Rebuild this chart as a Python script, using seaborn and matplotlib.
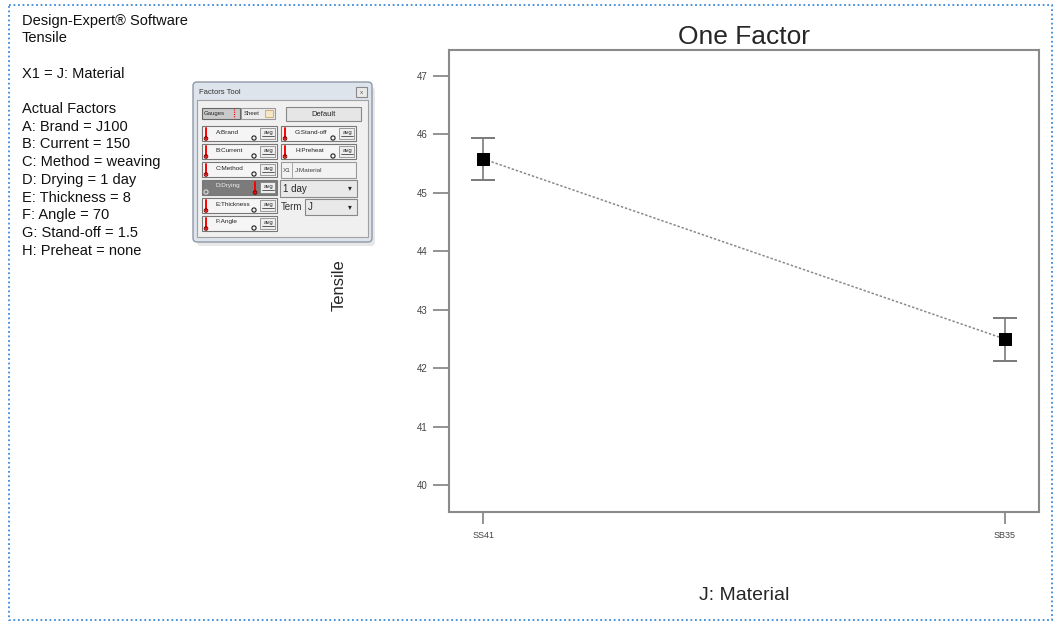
import numpy as np
import pandas as pd
import matplotlib
matplotlib.use("Agg")
import matplotlib.pyplot as plt
from matplotlib.patches import Rectangle, FancyBboxPatch, Circle
import seaborn as sns

# values
materials = ["SS41", "SB35"]
tensile_mean = [45.58, 42.50]
ci_low = [45.22, 42.13]
ci_high = [45.94, 42.86]
y_ticks = [40, 41, 42, 43, 44, 45, 46, 47]

info_lines = [
    (0, "Design-Expert\u00ae Software"),
    (1, "Tensile"),
    (3, "X1 = J: Material"),
    (5, "Actual Factors"),
    (6, "A: Brand = J100"),
    (7, "B: Current = 150"),
    (8, "C: Method = weaving"),
    (9, "D: Drying = 1 day"),
    (10, "E: Thickness = 8"),
    (11, "F: Angle = 70"),
    (12, "G: Stand-off = 1.5"),
    (13, "H: Preheat = none"),
]
gauges_left = ["A:Brand", "B:Current", "C:Method", "D:Drying", "E:Thickness", "F:Angle"]
gauges_right = ["G:Stand-off", "H:Preheat"]

sns.set_style("white")
plt.rcParams["font.family"] = ["Liberation Sans", "DejaVu Sans"]

W, H = 1054, 621
fig = plt.figure(figsize=(W / 100, H / 100), dpi=100)

# ---- main plot ----
ax = fig.add_axes([449 / W, 1 - 512 / H, (1039 - 449) / W, (512 - 50) / H])
df = pd.DataFrame({"Material": materials, "Tensile": tensile_mean})
sns.lineplot(data=df, x="Material", y="Tensile", sort=False, color="#8a8a8a",
             lw=1.1, linestyle=(0, (1.6, 1.2)), ax=ax)
lo = np.array(tensile_mean) - np.array(ci_low)
hi = np.array(ci_high) - np.array(tensile_mean)
ax.errorbar(materials, tensile_mean, yerr=[lo, hi], fmt="none", ecolor="#7a7a7a",
            elinewidth=1.2, capsize=8.5, capthick=1.4, zorder=3)
sns.scatterplot(data=df, x="Material", y="Tensile", marker="s", s=85,
                color="black", edgecolor="black", zorder=5, ax=ax)

ax.set_xlim(-0.066, 1.066)
ax.set_ylim(39.538, 47.445)
ax.set_yticks(y_ticks)
ax.tick_params(axis="y", direction="out", length=11.5, width=1.3, color="#8a8a8a",
               labelsize=7, labelcolor="#444444", pad=4, left=True)
ax.tick_params(axis="x", direction="out", length=8.5, width=1.3, color="#8a8a8a",
               labelsize=6.5, labelcolor="#444444", pad=5, bottom=True)
for s in ax.spines.values():
    s.set_visible(True)
    s.set_color("#8a8a8a")
    s.set_linewidth(1.5)

ax.set_title("One Factor", fontsize=19, pad=4)
ax.set_ylabel("Tensile", fontsize=12)
ax.yaxis.set_label_coords((346.5 - 449) / 590, (512 - 285) / 462)
ax.set_xlabel("J: Material", fontsize=14)
ax.xaxis.set_label_coords(0.5, (512 - 587.5) / 462)

# ---- overlay in pixel coordinates for the side panel ----
ov = fig.add_axes([0, 0, 1, 1], facecolor="none", zorder=-1)
ov.set_xlim(0, W)
ov.set_ylim(H, 0)
ov.axis("off")

for i, txt in info_lines:
    ov.text(22, 20.5 + 17.7 * i, txt, fontsize=10.5, va="center", ha="left", color="#111111")

# dotted frame
ov.add_patch(Rectangle((9, 5), 1043, 615, fill=False, ec="#3c8ad8", lw=1.3,
                       ls=(0, (1, 1.5))))


def box(x0, y0, x1, y1, fc, ec="#8a8a8a", lw=0.8, z=2):
    ov.add_patch(Rectangle((x0, y0), x1 - x0, y1 - y0, fc=fc, ec=ec, lw=lw, zorder=z))


# Factors Tool window
ov.add_patch(FancyBboxPatch((197, 87), 178, 159, boxstyle="round,pad=0,rounding_size=4",
                            fc="#bbbbbb", ec="none", alpha=0.35, zorder=1))
ov.add_patch(FancyBboxPatch((193, 82), 179, 160, boxstyle="round,pad=0,rounding_size=4",
                            fc="#dde4ec", ec="#8f99a6", lw=1, zorder=1.5))
ov.text(199, 92, "Factors Tool", fontsize=5.5, color="#333333", va="center", zorder=3)
box(356, 87, 367, 97, "#e9e9e9", "#888888")
ov.text(361.5, 92, "x", fontsize=4.5, ha="center", va="center", color="#555555", zorder=3)
box(197, 100, 368, 237, "#f0f0f0", "#a0a0a0")

box(202, 108, 240, 119, "#c9c9c9", "#666666", z=3)
ov.text(204, 113.5, "Gauges", fontsize=4.3, va="center", zorder=4)
ov.plot([234, 234], [109, 118], color="red", lw=0.8, ls=(0, (1, 1)), zorder=4)
box(241, 108, 275, 119, "#ececec", "#999999", z=3)
ov.text(244, 113.5, "Sheet", fontsize=4.3, va="center", zorder=4)
box(265, 110, 273, 117, "#f7e6c6", "#c9a66b", lw=0.6, z=4)
box(286, 107, 361, 121, "#e6e6e6", "#888888", z=3)
ov.text(323.5, 114, "Default", fontsize=5.5, ha="center", va="center", zorder=4)


def gauge(x0, y0, label, dark=False):
    x1 = x0 + 75
    box(x0, y0, x1, y0 + 15, "#7b7b7b" if dark else "#f5f5f5", "#777777", z=3)
    rx = x0 + 53 if dark else x0 + 4
    ov.plot([rx, rx], [y0 + 1.5, y0 + 13], color="red", lw=1.4, zorder=5)
    ov.add_patch(Circle((rx, y0 + 12.5), 1.8, fc="none", ec="#7a0000", lw=0.7, zorder=6))
    ov.add_patch(Circle((x0 + 52 if not dark else x0 + 4, y0 + 12), 2.1, fc="none",
                        ec="#222222" if not dark else "#dddddd", lw=0.8, zorder=5))
    ov.text(x0 + 14, y0 + 6, label, fontsize=4.6, va="center",
            color="#eeeeee" if dark else "#222222", zorder=5)
    box(x0 + 58, y0 + 2, x1 - 2, y0 + 13, "#eeeeee", "#777777", lw=0.5, z=4)
    ov.text(x0 + 66.5, y0 + 6.5, "avg", fontsize=4.3, ha="center", va="center", zorder=5)
    ov.plot([x0 + 60, x0 + 72], [y0 + 10, y0 + 10], color="#222222", lw=0.5, zorder=5)


for k, lab in enumerate(gauges_left):
    gauge(202, 126 + 18 * k, lab, dark=(lab == "D:Drying"))
for k, lab in enumerate(gauges_right):
    gauge(281, 126 + 18 * k, lab)

box(281, 162, 356, 178, "#f2f2f2", "#999999", z=3)
ov.plot([292, 292], [163, 177], color="#999999", lw=0.6, zorder=4)
ov.text(283, 170, "X1", fontsize=4.6, va="center", color="#444444", zorder=4)
ov.text(295, 170, "J:Material", fontsize=4.6, va="center", color="#444444", zorder=4)
box(280, 180, 357, 197, "#e9e9e9", "#888888", z=3)
ov.text(283, 188.5, "1 day", fontsize=7, va="center", zorder=4)
ov.text(350, 189, "\u25BE", fontsize=5.5, ha="center", va="center", zorder=4)
ov.text(281, 207, "Term", fontsize=7, va="center", color="#333333", zorder=4)
box(305, 199, 357, 215, "#e9e9e9", "#888888", z=3)
ov.text(308, 207, "J", fontsize=7, va="center", zorder=4)
ov.text(350, 207.5, "\u25BE", fontsize=5.5, ha="center", va="center", zorder=4)

fig.savefig("out.png", dpi=100)
